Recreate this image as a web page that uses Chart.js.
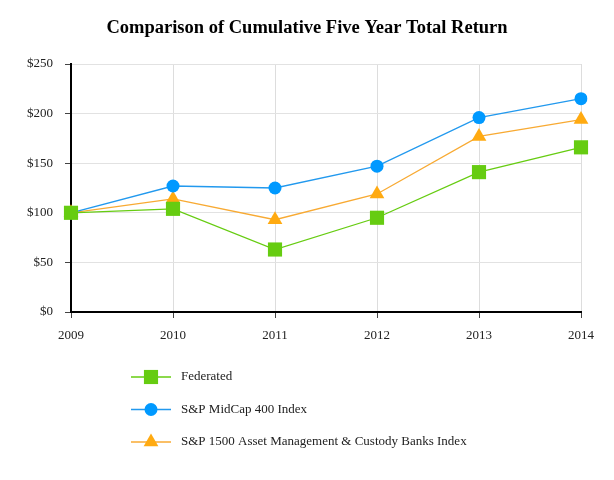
<!DOCTYPE html>
<html>
<head>
<meta charset="utf-8">
<script src="https://cdn.jsdelivr.net/npm/chart.js@4/dist/chart.umd.min.js"></script>
<style>
  html, body { margin: 0; padding: 0; background: #fff; }
  #wrap { width: 614px; height: 480px; }
</style>
</head>
<body>
<div id="wrap"><canvas id="chart" width="614" height="480"></canvas></div>
<script>
// Data
const years = ['2009', '2010', '2011', '2012', '2013', '2014'];
const federated = [100, 104, 63, 95, 141, 166];
const midCap400 = [100, 127, 125, 147, 196, 215];
const assetMgmtBanks = [100, 114, 93, 119, 177, 194];
const yTicks = [0, 50, 100, 150, 200, 250];

const FONT = "'Liberation Serif', 'Times New Roman', serif";

// Legend drawn under the plot, one entry per row
const bottomLegend = {
  id: 'bottomLegend',
  afterDraw(chart) {
    const ctx = chart.ctx;
    ctx.save();
    chart.data.datasets.forEach((ds, i) => {
      const y = 377 + i * 32.5;
      ctx.strokeStyle = ds.borderColor;
      ctx.lineWidth = 1.5;
      ctx.beginPath();
      ctx.moveTo(131, y);
      ctx.lineTo(171, y);
      ctx.stroke();
      ctx.fillStyle = ds.backgroundColor;
      ctx.strokeStyle = ds.backgroundColor;
      Chart.helpers.drawPoint(ctx, {
        pointStyle: ds.pointStyle,
        radius: ds.pointRadius,
        borderWidth: 0
      }, 151, y);
      ctx.fillStyle = '#222';
      ctx.font = '13px ' + FONT;
      ctx.textBaseline = 'middle';
      ctx.textAlign = 'left';
      ctx.fillText(ds.label, 181, y);
    });
    ctx.restore();
  }
};

new Chart(document.getElementById('chart'), {
  type: 'line',
  data: {
    labels: years,
    datasets: [{
      label: 'Federated',
      data: federated,
      borderColor: '#66cc11',
      backgroundColor: '#66cc11',
      pointStyle: 'rect',
      pointRadius: 10,
      pointBorderWidth: 0,
      borderWidth: 1.3
    }, {
      label: 'S&P MidCap 400 Index',
      data: midCap400,
      borderColor: '#2299ee',
      backgroundColor: '#0099ff',
      pointStyle: 'circle',
      pointRadius: 6.5,
      pointBorderWidth: 0,
      borderWidth: 1.3
    }, {
      label: 'S&P 1500 Asset Management & Custody Banks Index',
      data: assetMgmtBanks,
      borderColor: '#f8aa33',
      backgroundColor: '#ffaa11',
      pointStyle: 'triangle',
      pointRadius: 8.5,
      pointBorderWidth: 0,
      borderWidth: 1.3
    }]
  },
  options: {
    responsive: false,
    animation: false,
    layout: { padding: 0 },
    plugins: {
      legend: { display: false },
      tooltip: { enabled: false },
      title: {
        display: true,
        text: 'Comparison of Cumulative Five Year Total Return',
        color: '#000',
        font: { family: FONT, size: 18.5, weight: 'bold', lineHeight: 1.2 },
        padding: { top: 17, bottom: 24.8 }
      }
    },
    scales: {
      x: {
        offset: false,
        grid: { color: '#dddddd', tickLength: 6, tickColor: '#444' },
        border: { color: '#000', width: 2 },
        ticks: { color: '#222', font: { family: FONT, size: 13 }, padding: 10, maxRotation: 0 },
        afterFit(scale) { scale.height = 168; }
      },
      y: {
        min: 0,
        max: 250,
        grid: { color: '#e2e2e2', tickLength: 6, tickColor: '#444' },
        border: { color: '#000', width: 2 },
        afterBuildTicks(scale) { scale.ticks = yTicks.map(v => ({ value: v })); },
        ticks: {
          color: '#222',
          font: { family: FONT, size: 13 },
          padding: 12,
          callback: v => '$' + v
        },
        afterFit(scale) { scale.width = 71; }
      },
      // empty right axis: keeps the right margin while the title stays centred on the page
      yRight: {
        position: 'right',
        min: 0,
        max: 250,
        grid: { display: false },
        border: { display: false },
        ticks: { display: false },
        afterFit(scale) { scale.width = 33; }
      }
    }
  },
  plugins: [bottomLegend]
});
</script>
</body>
</html>
